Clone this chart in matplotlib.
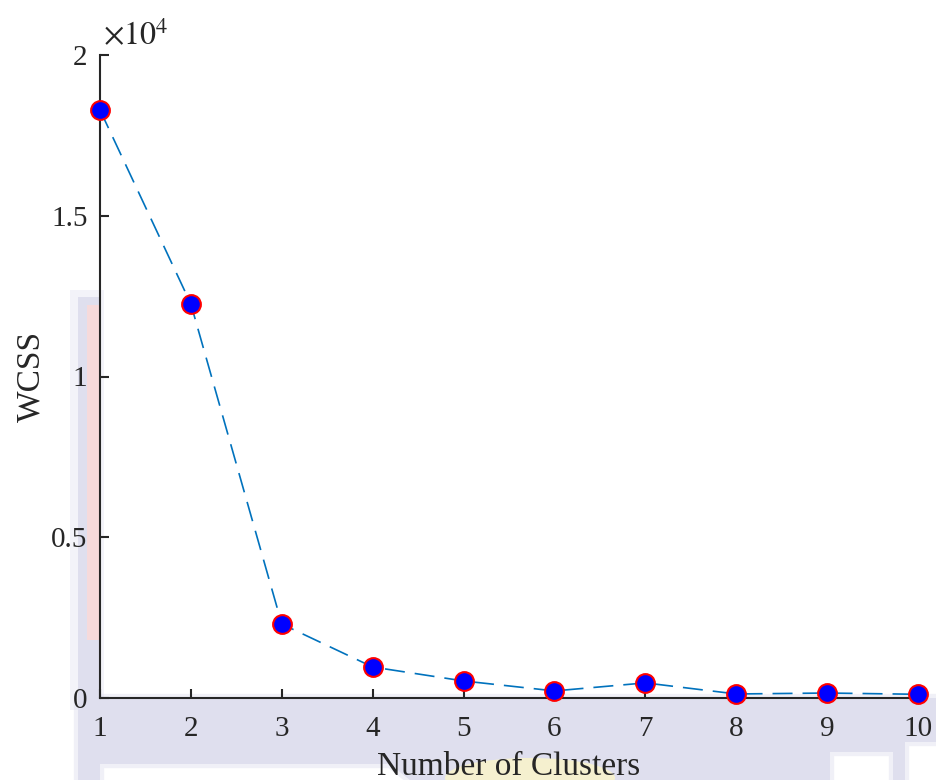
import matplotlib
matplotlib.use('Agg')
import matplotlib.pyplot as plt
from matplotlib.ticker import FuncFormatter
from matplotlib.patches import Rectangle, Polygon, Ellipse

# elbow curve: within-cluster sum of squares for k = 1..10
clusters = [1, 2, 3, 4, 5, 6, 7, 8, 9, 10]
wcss = [18290, 12255, 2300, 964, 530, 220, 470, 125, 155, 115]
y_ticks = [0, 5000, 10000, 15000, 20000]
scale = 1e4

plt.rcParams['font.family'] = ['Liberation Serif', 'DejaVu Serif']
plt.rcParams['mathtext.fontset'] = 'stix'

W, H = 936, 780
fig = plt.figure(figsize=(W / 100, H / 100), dpi=100)

# pale emblem in the background, laid out in pixel units
bg = fig.add_axes([0, 0, 1, 1], zorder=0)
bg.set_xlim(0, W)
bg.set_ylim(H, 0)
bg.axis('off')
lav = '#dfdfee'
# soft edge: a wider, fainter copy under each shape
bg.add_patch(Rectangle((70, 290), 34, 420, facecolor=lav, edgecolor='none', alpha=0.35))
bg.add_patch(Rectangle((78, 297), 22, 401, facecolor=lav, edgecolor='none'))
bg.add_patch(Rectangle((87, 305), 13, 335, facecolor='#f6dadb', edgecolor='none'))
band = [(78, 698), (936, 698), (936, 742), (905, 742), (905, 780), (893, 780),
        (893, 752), (830, 752), (830, 780), (410, 780), (390, 764), (100, 764),
        (100, 780), (78, 780)]
bg.add_patch(Polygon(band, closed=True, facecolor=lav, edgecolor=lav, lw=6, alpha=0.45))
bg.add_patch(Polygon(band, closed=True, facecolor=lav, edgecolor='none'))
bg.add_patch(Ellipse((530, 778), 170, 40, facecolor='#f8f3cc', edgecolor='none', alpha=0.9))

ax = fig.add_axes([100 / W, 82 / H, 818 / W, 643 / H], zorder=1)
ax.patch.set_alpha(0)

ax.plot(clusters, wcss, linestyle=(0, (12, 6)), color='#0072BD', linewidth=1.2,
        marker='o', markersize=13.5, markerfacecolor='#0000ff', markeredgecolor='#ff0000',
        markeredgewidth=1.5, clip_on=False, zorder=3)

ax.set_xlim(1, 10)
ax.set_ylim(0, 20000)
ax.set_xticks(clusters)
ax.set_yticks(y_ticks)
ax.yaxis.set_major_formatter(FuncFormatter(lambda v, p: '%g' % (v / scale)))

for side in ['top', 'right']:
    ax.spines[side].set_visible(False)
for side in ['left', 'bottom']:
    ax.spines[side].set_linewidth(1.5)
    ax.spines[side].set_color('#262626')

ax.tick_params(direction='in', length=6.5, width=1.5, color='#262626',
               labelsize=21, labelcolor='#262626')
ax.tick_params(axis='x', pad=13)
ax.tick_params(axis='y', pad=9)

ax.set_xlabel('Number of Clusters', fontsize=24, color='#262626', labelpad=7)
ax.set_ylabel('WCSS', fontsize=24, color='#262626', labelpad=3)

ax.text(0.004, 1.016, r'$\times 10^{4}$', transform=ax.transAxes, fontsize=23,
        color='#262626', ha='left', va='baseline')

fig.savefig('out.png', dpi=100)
